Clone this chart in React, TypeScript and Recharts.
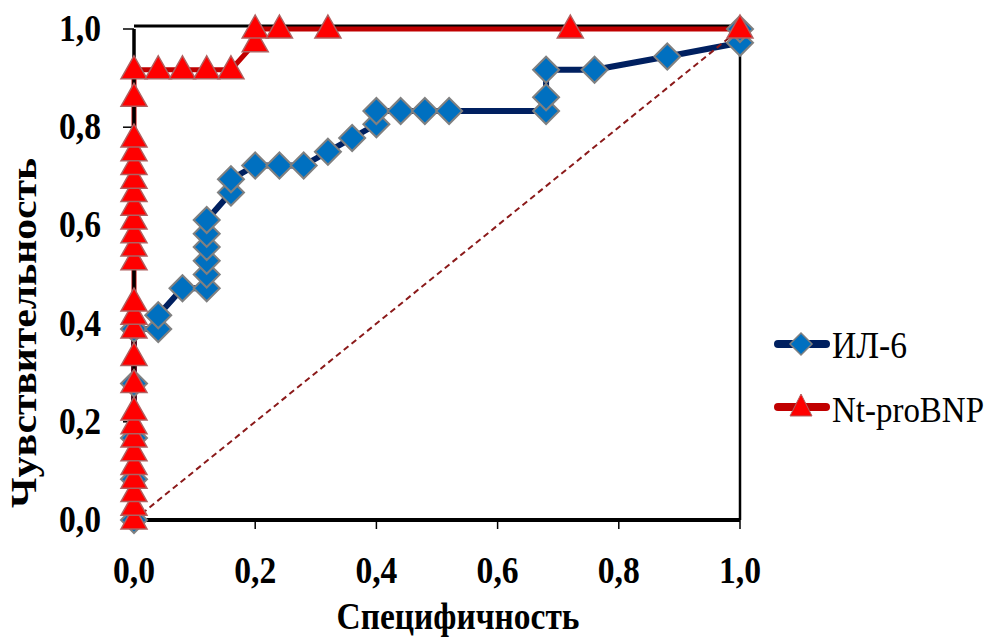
import React from 'react';
import { ComposedChart, Line, XAxis, YAxis, ReferenceLine, Label } from 'recharts';

// ROC curve data: x = value on the "Специфичность" axis, y = sensitivity
const il6X = [0, 0, 0, 0, 0, 0.04, 0.04, 0.08, 0.12, 0.12, 0.12, 0.12, 0.12, 0.12, 0.16, 0.16, 0.2, 0.24, 0.28, 0.32, 0.36, 0.4, 0.4, 0.44, 0.48, 0.52, 0.68, 0.68, 0.68, 0.76, 0.88, 1.0, 1.0];
const il6Y = [0, 0.083, 0.167, 0.278, 0.389, 0.389, 0.417, 0.472, 0.472, 0.5, 0.528, 0.556, 0.583, 0.611, 0.667, 0.694, 0.722, 0.722, 0.722, 0.75, 0.778, 0.806, 0.833, 0.833, 0.833, 0.833, 0.833, 0.861, 0.917, 0.917, 0.944, 0.972, 1.0];

const bnpX = [0, 0, 0, 0, 0, 0, 0, 0, 0, 0, 0, 0, 0, 0, 0, 0, 0, 0, 0, 0, 0, 0, 0, 0, 0, 0, 0.04, 0.08, 0.12, 0.16, 0.2, 0.2, 0.24, 0.32, 0.72, 1.0];
const bnpY = [0, 0.028, 0.056, 0.083, 0.111, 0.139, 0.167, 0.194, 0.222, 0.278, 0.333, 0.389, 0.417, 0.444, 0.528, 0.556, 0.583, 0.611, 0.639, 0.667, 0.694, 0.722, 0.75, 0.778, 0.861, 0.917, 0.917, 0.917, 0.917, 0.917, 0.972, 1.0, 1.0, 1.0, 1.0, 1.0];

const diagX = [0, 1];
const diagY = [0, 1];

const axisTicks = [0, 0.2, 0.4, 0.6, 0.8, 1.0];

const seriesNames = ['ИЛ-6', 'Nt-proBNP'];
const xTitle = 'Специфичность';
const yTitle = 'Чувствительность';

const il6Data = il6X.map((x, i) => ({ x, y: il6Y[i] }));
const bnpData = bnpX.map((x, i) => ({ x, y: bnpY[i] }));
const diagData = diagX.map((x, i) => ({ x, y: diagY[i] }));

const FONT = '"Liberation Serif", "Times New Roman", serif';
const fmt = (v: number) => v.toFixed(1).replace('.', ',');

const NAVY = '#002060';
const BLUE = '#0070C0';
const DARKRED = '#C00000';
const RED = '#FF0000';

const Diamond = (props: any) => {
  const { cx, cy, index } = props;
  if (cx == null || cy == null) return null;
  const r = 13;
  return (
    <polygon
      key={`d-${index}`}
      points={`${cx},${cy - r} ${cx + r},${cy} ${cx},${cy + r} ${cx - r},${cy}`}
      fill={BLUE}
      stroke="#808080"
      strokeWidth={2}
    />
  );
};

const Triangle = (props: any) => {
  const { cx, cy, index } = props;
  if (cx == null || cy == null) return null;
  return (
    <polygon
      key={`t-${index}`}
      points={`${cx},${cy - 14} ${cx + 13},${cy + 9} ${cx - 13},${cy + 9}`}
      fill={RED}
      stroke="#B06060"
      strokeWidth={1.5}
    />
  );
};

const YTick = (props: any) => {
  const { y, payload } = props;
  return (
    <text
      x={101}
      y={y + 12}
      textAnchor="end"
      fontFamily={FONT}
      fontWeight="bold"
      fontSize={37}
      textLength={42}
      lengthAdjust="spacingAndGlyphs"
      fill="#000"
    >
      {fmt(payload.value)}
    </text>
  );
};

const XTick = (props: any) => {
  const { x, payload } = props;
  return (
    <text
      x={x}
      y={583}
      textAnchor="middle"
      fontFamily={FONT}
      fontWeight="bold"
      fontSize={37}
      textLength={42}
      lengthAdjust="spacingAndGlyphs"
      fill="#000"
    >
      {fmt(payload.value)}
    </text>
  );
};

const FrameTop = (props: any) => {
  const { x1, x2, y1 } = props;
  if (x1 == null) return null;
  return <line x1={x1} y1={y1 - 3} x2={x2} y2={y1 - 3} stroke="#000" strokeWidth={3} />;
};

export default function App() {
  return (
    <div style={{ position: 'absolute', left: 0, top: 0, width: 992, height: 639, background: '#fff' }}>
      <ComposedChart width={992} height={639} margin={{ top: 29, right: 252, left: 0, bottom: 59 }}>
        <XAxis
          type="number"
          dataKey="x"
          domain={[0, 1]}
          ticks={axisTicks}
          allowDuplicatedCategory
          height={60}
          axisLine={{ stroke: '#000', strokeWidth: 4 }}
          tickLine={{ stroke: '#000', strokeWidth: 1.5 }}
          tickSize={9}
          tick={<XTick />}
          interval={0}
        >
          <Label
            content={() => (
              <text
                x={458}
                y={629}
                textAnchor="middle"
                fontFamily={FONT}
                fontWeight="bold"
                fontSize={37}
                textLength={243}
                lengthAdjust="spacingAndGlyphs"
                fill="#000"
              >
                {xTitle}
              </text>
            )}
          />
        </XAxis>
        <YAxis
          type="number"
          dataKey="y"
          domain={[0, 1]}
          ticks={axisTicks}
          width={134}
          axisLine={{ stroke: '#000', strokeWidth: 3.5 }}
          tickLine={{ stroke: '#000', strokeWidth: 1.5 }}
          tickSize={11}
          tick={<YTick />}
          interval={0}
        >
          <Label
            content={() => (
              <text
                x={0}
                y={0}
                transform="translate(36 333) rotate(-90)"
                textAnchor="middle"
                fontFamily={FONT}
                fontWeight="bold"
                fontSize={35}
                textLength={350}
                lengthAdjust="spacingAndGlyphs"
                fill="#000"
              >
                {yTitle}
              </text>
            )}
          />
        </YAxis>
        <ReferenceLine y={1} shape={FrameTop} />
        <ReferenceLine x={1} stroke="#000" strokeWidth={2.5} />
        <Line
          data={il6Data}
          dataKey="y"
          name={seriesNames[0]}
          type="linear"
          stroke={NAVY}
          strokeWidth={6}
          strokeLinejoin="round"
          dot={Diamond}
          activeDot={false}
          isAnimationActive={false}
        />
        <Line
          data={bnpData}
          dataKey="y"
          name={seriesNames[1]}
          type="linear"
          stroke={DARKRED}
          strokeWidth={5}
          strokeLinejoin="round"
          dot={Triangle}
          activeDot={false}
          isAnimationActive={false}
        />
        <Line
          data={diagData}
          dataKey="y"
          type="linear"
          stroke="#8B1A1A"
          strokeWidth={2}
          strokeDasharray="6 4"
          dot={false}
          activeDot={false}
          isAnimationActive={false}
          legendType="none"
        />
      </ComposedChart>
      <svg width={222} height={130} style={{ position: 'absolute', left: 770, top: 310 }}>
        <g transform="translate(0 34)">
          <line x1={8} y1={0} x2={56} y2={0} stroke={NAVY} strokeWidth={8} strokeLinecap="round" />
          <polygon points="31,-11 42,0 31,11 20,0" fill={BLUE} stroke="#808080" strokeWidth={1.5} />
          <text x={62} y={14} fontFamily={FONT} fontSize={37} textLength={75} lengthAdjust="spacingAndGlyphs" fill="#000">
            {seriesNames[0]}
          </text>
        </g>
        <g transform="translate(0 97)">
          <line x1={8} y1={0} x2={56} y2={0} stroke={DARKRED} strokeWidth={8} strokeLinecap="round" />
          <polygon points="31,-13 42,9 20,9" fill={RED} stroke="#B06060" strokeWidth={1} />
          <text x={62} y={15} fontFamily={FONT} fontSize={35} textLength={152} lengthAdjust="spacingAndGlyphs" fill="#000">
            {seriesNames[1]}
          </text>
        </g>
      </svg>
    </div>
  );
}
